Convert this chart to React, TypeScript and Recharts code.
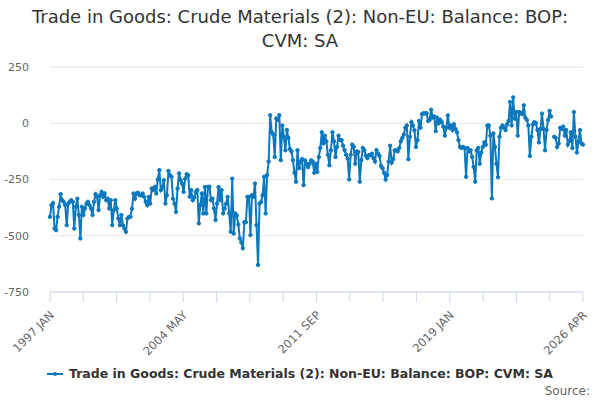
import { CartesianGrid, Line, LineChart, XAxis, YAxis } from 'recharts';

// Monthly balance, £ million, 1997 JAN .. 2026 APR (null = missing month)
const balance: (number | null)[] = [
    -416, -364, -355, -468, -475, -416, -371, -315, -342, -349, -364, -453,
    -357, -349, -342, -349, -468, -371, -335, -408, -512, -371, -408, -379,
    -357, -349, -364, -379, -408, -349, -315, -327, -386, -320, -305, -327,
    -312, -342, -335, -379, -342, -453, -386, -342, -379, -423, -453, -408,
    -453, -468, -482, -423, -416, -416, -380, -312, -335, -312, -309, -320,
    -320, -312, -327, -349, -364, -327, -357, -290, -297, -283, -312, -250,
    -208, -297, -283, -253, -357, -320, -212, -231, -238, -335, -357, -394,
    -290, -223, -253, -268, -305, -246, -226, -231, -327, -297, -342, -330,
    -305, -297, -445, -364, -312, -401, -283, -401, -283, -282, -342, -335,
    -379, -430, -357, -283, -342, -297, -401, -379, -357, -327, -400, -482,
    -246, -490, -401, -410, -450, -512, -530, -556, -440, -440, -327, -327,
    -497, -320, -327, -268, -453, -630, -357, -350, -320, -238, -401, -230,
    -170, 36, -40, -50, -150, 21, 15, 36, -164, -10, -60, -120,
    -30, -65, -115, -125, -165, -220, -260, -120, -200, -170, -160, -275,
    -165, -180, -195, -180, -165, -170, -220, -180, -216, -150, -110, -40,
    -90, -55, -80, -140, -187, -120, -40, -80, -150, -105, -55, -75,
    -75, -100, -120, -140, -157, -250, -140, -95, -105, -180, -125, -127,
    -260, -164, -110, -120, -145, -155, -142, -142, -135, -155, -170, -120,
    -135, -145, -190, -200, -220, -250, -230, -170, -100, -175, -160, -120,
    -120, -125, -110, -80, -65, -50, -20, -10, -160, -60, 5, -10,
    -31, -105, -75, 10, -20, 40, 45, 43, 45, 10, 15, 60,
    25, 30, -35, 25, 0, 15, 5, -15, -55, -20, 35, -20,
    -10, -30, -5, -25, -40, -75, -105, -110, -105, -110, -238, -110,
    -125, -120, -150, -194, -260, -120, -110, -180, -130, -105, -85, -95,
    -10, -10, -55, -334, -45, -105, -180, -240, -60, -20, -10, -20,
    -30, -5, 10, 95, -10, 115, 20, 50, -55, 50, 45, 40,
    80, 25, 15, -10, -145, -60, -5, 5, 0, -30, -85, -25,
    43, -25, -120, -30, 15, 55, 30, null, -60, -65, -105, -90,
    -20, -25, -15, -55, -30, -95, -80, -40, -110, 50, -60, -130,
    -80, -30, -90, -95,
];

const monthNames = ['JAN', 'FEB', 'MAR', 'APR', 'MAY', 'JUN', 'JUL', 'AUG', 'SEP', 'OCT', 'NOV', 'DEC'];
const startYear = 1997;
const xTickLabels = ['1997 JAN', '2004 MAY', '2011 SEP', '2019 JAN', '2026 APR'];
const yTicks = [250, 0, -250, -500, -750];

const seriesName = 'Trade in Goods: Crude Materials (2): Non-EU: Balance: BOP: CVM: SA';
const color = '#0a78bf';

const data = balance.map((value, i) => ({
    i,
    label: `${startYear + Math.floor(i / 12)} ${monthNames[i % 12]}`,
    value,
}));

const last = data.length - 1;
const xTicks = Array.from({ length: 17 }, (_, k) => (k * last) / 16);

function XTick({ x, y, payload }: any) {
    const k = Math.round((payload.value * 16) / last);
    if (k % 4 !== 0) return null;
    return (
        <g transform={`translate(${x + 2},${y + 9})`}>
            <text transform="rotate(-45)" textAnchor="end" fill="#666" fontSize={11.5} dy={4}>
                {xTickLabels[k / 4]}
            </text>
        </g>
    );
}

export default function App() {
    return (
        <div style={{ position: 'absolute', left: 0, top: 0, width: 600, height: 400, background: '#fff', fontFamily: '"DejaVu Sans", sans-serif' }}>
            <div style={{ position: 'absolute', top: 5, left: 0, width: 600, textAlign: 'center', fontSize: 18, lineHeight: '24px', color: '#333' }}>
                Trade in Goods: Crude Materials (2): Non-EU: Balance: BOP:<br />CVM: SA
            </div>
            <LineChart width={600} height={400} data={data} margin={{ top: 67, right: 17, bottom: 48, left: 0 }}>
                <CartesianGrid vertical={false} stroke="#e6e6e6" />
                <XAxis
                    dataKey="i"
                    type="number"
                    domain={[0, last]}
                    ticks={xTicks}
                    tick={<XTick />}
                    height={60}
                    stroke="#ccd6eb"
                    tickSize={10}
                    interval={0}
                />
                <YAxis
                    domain={[-750, 250]}
                    ticks={yTicks}
                    width={50}
                    axisLine={false}
                    tickLine={false}
                    tickMargin={15}
                    tick={{ fill: '#666', fontSize: 11 }}
                />
                <Line
                    dataKey="value"
                    name={seriesName}
                    stroke={color}
                    strokeWidth={2}
                    dot={{ r: 1.7, fill: color, stroke: color, strokeWidth: 1 }}
                    isAnimationActive={false}
                />
            </LineChart>
            <div style={{ position: 'absolute', top: 366, left: 0, width: 600, display: 'flex', justifyContent: 'center', alignItems: 'center', fontSize: 12.5, fontWeight: 'bold', color: '#333' }}>
                <svg width={16} height={10} style={{ marginRight: 6 }}>
                    <line x1={0} y1={5} x2={16} y2={5} stroke={color} strokeWidth={2} />
                    <circle cx={8} cy={5} r={2} fill={color} />
                </svg>
                {seriesName}
            </div>
            <div style={{ position: 'absolute', top: 384, right: 10, fontSize: 12, color: '#666' }}>Source:</div>
        </div>
    );
}
